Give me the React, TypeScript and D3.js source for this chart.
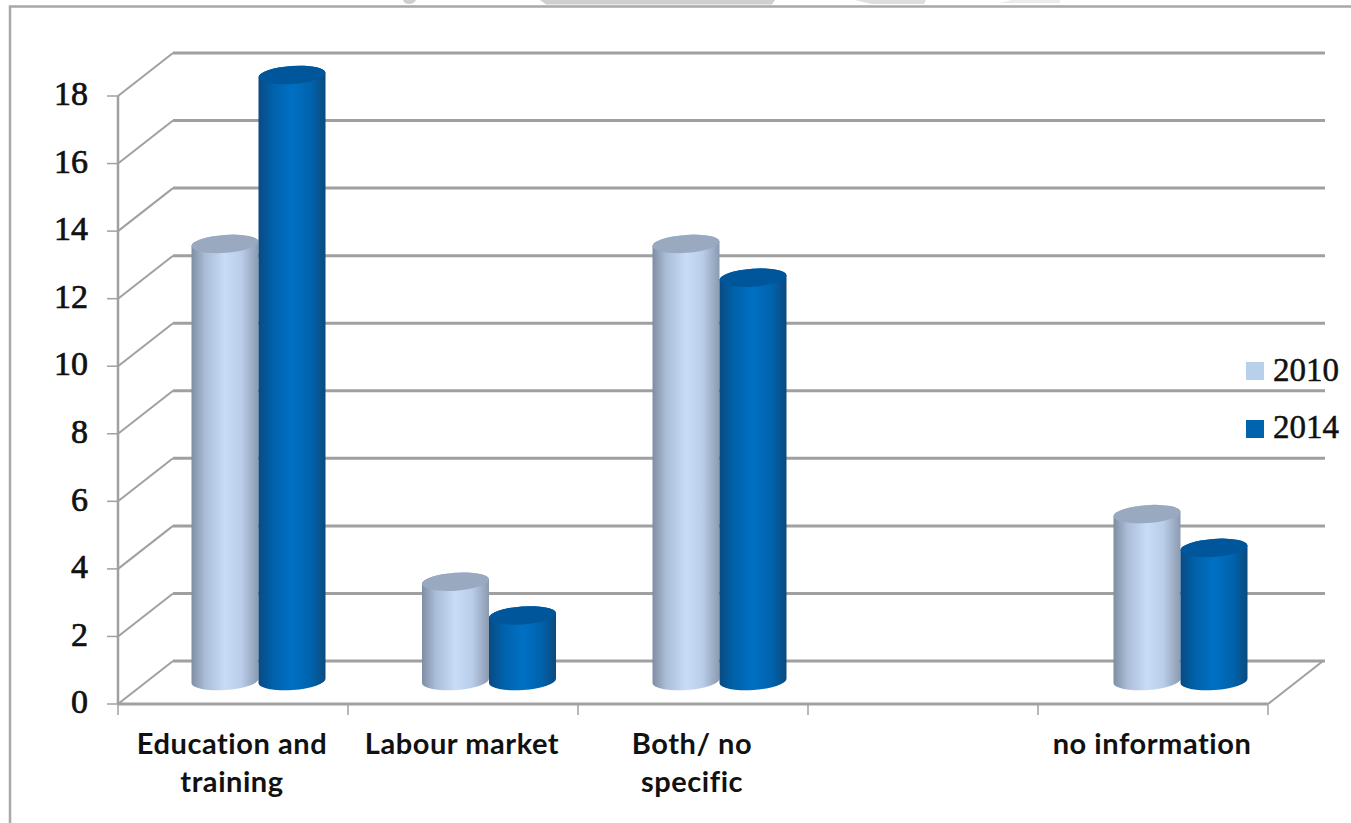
import React from "react";
import * as d3 from "d3";

const categories = ["Education and training", "Labour market", "Both/ no specific", "", "no information"];
const categoryLines = [["Education and", "training"], ["Labour market"], ["Both/ no", "specific"], [], ["no information"]];
const seriesNames = ["2010", "2014"];
const values2010 = [13, 3, 13, null, 5];
const values2014 = [18, 2, 12, null, 4];
const yTicks = [0, 2, 4, 6, 8, 10, 12, 14, 16, 18];

const W = 1351;
const H = 823;
const FRONT_LEFT = 118;
const FRONT_RIGHT = 1268;
const DEPTH_X = 55;
const DEPTH_Y = 43;
const RY = 9;
const TILT = -4;

const y = d3.scaleLinear().domain([0, 18]).range([704, 96]);
const x = d3.scaleBand<string>().domain(categories.map((c, i) => c + i)).range([FRONT_LEFT, FRONT_RIGHT]);
const barW = 67;

const GRID = "#a0a0a0";
const digitFont = "'Liberation Serif', serif";
const labelFont = "Lato, 'Open Sans', sans-serif";

// Cylinder caps lean slightly upward to the right, like a 3D perspective view
function cylinderPath(cx: number, top: number, bottom: number, rx: number) {
  const dy = rx * Math.sin((-TILT * Math.PI) / 180);
  return `M${cx - rx},${top + dy} L${cx - rx},${bottom + dy} A${rx},${RY} ${TILT} 0 0 ${cx + rx},${bottom - dy} L${cx + rx},${top - dy} A${rx},${RY} ${TILT} 0 0 ${cx - rx},${top + dy} Z`;
}

function Cylinder({ cx, value, body, cap }: { cx: number; value: number; body: string; cap: string }) {
  const rx = barW / 2;
  const base = y(0) - 23;
  const top = y(value) - 21;
  return (
    <g>
      <path d={cylinderPath(cx, top, base, rx)} fill={`url(#${body})`} />
      <ellipse cx={0} cy={0} rx={rx} ry={RY} fill={cap} transform={`translate(${cx},${top}) rotate(${TILT})`} />
    </g>
  );
}

export default function App() {
  const ticksX = d3.range(categories.length + 1).map((i) => FRONT_LEFT + i * x.step());
  return (
    <svg width={W} height={H} viewBox={`0 0 ${W} ${H}`} style={{ position: "fixed", left: 0, top: 0, background: "#fff" }}>
      <defs>
        <linearGradient id="bodyLight" x1="0" x2="1" y1="0" y2="0">
          <stop offset="0" stopColor="#7d8da3" />
          <stop offset="0.2" stopColor="#aabcd6" />
          <stop offset="0.5" stopColor="#c8dcf8" />
          <stop offset="0.75" stopColor="#b9cce8" />
          <stop offset="1" stopColor="#8a9ab0" />
        </linearGradient>
        <linearGradient id="bodyDark" x1="0" x2="1" y1="0" y2="0">
          <stop offset="0" stopColor="#0a4a82" />
          <stop offset="0.22" stopColor="#0062ab" />
          <stop offset="0.5" stopColor="#0070c4" />
          <stop offset="0.78" stopColor="#0063ad" />
          <stop offset="1" stopColor="#0b4a7e" />
        </linearGradient>
      </defs>

      {/* slide elements cut off along the upper edge */}
      <path d="M403,0 H416 Q414,4 409,4 Q404,4 403,0 Z" fill="#cfcfcf" />
      <path d="M540,0 H775 L772,4.5 H546 Z" fill="#cfcfcf" />
      <path d="M855,0 H926 L924,4 H872 Z" fill="#dedede" />
      <path d="M1000,3 L1012,0 H1060 V3 Z" fill="#ececec" />

      {/* outer chart frame */}
      <rect x={10} y={6.5} width={1400} height={900} fill="none" stroke="#a8a8a8" strokeWidth={2.5} />

      {/* back wall and side wall grid */}
      {yTicks.map((t) => (
        <g key={t} stroke={GRID} strokeWidth={3} fill="none">
          <line x1={FRONT_LEFT} y1={y(t)} x2={FRONT_LEFT + DEPTH_X} y2={y(t) - DEPTH_Y} strokeWidth={2} />
          <line x1={FRONT_LEFT + DEPTH_X} y1={y(t) - DEPTH_Y} x2={FRONT_RIGHT + DEPTH_X + 2} y2={y(t) - DEPTH_Y} />
          <line x1={107} y1={y(t)} x2={FRONT_LEFT} y2={y(t)} strokeWidth={1.5} />
        </g>
      ))}
      <line x1={FRONT_RIGHT} y1={y(0)} x2={FRONT_RIGHT + DEPTH_X} y2={y(0) - DEPTH_Y} stroke={GRID} strokeWidth={2} />

      {/* axes */}
      <line x1={FRONT_LEFT} y1={y(18)} x2={FRONT_LEFT} y2={y(0)} stroke={GRID} strokeWidth={2.5} />
      <line x1={FRONT_LEFT} y1={y(0)} x2={FRONT_RIGHT} y2={y(0)} stroke={GRID} strokeWidth={3} />
      {ticksX.map((tx) => (
        <line key={tx} x1={tx} y1={y(0)} x2={tx} y2={715} stroke={GRID} strokeWidth={1.5} />
      ))}

      {/* cylinders: the depth offset grows slightly toward the right */}
      {categories.map((c, i) => {
        const center = FRONT_LEFT + (i + 0.5) * x.step() + 25.5 + i * 0.5;
        const a = values2010[i];
        const b = values2014[i];
        return (
          <g key={i}>
            {a != null && <Cylinder cx={center - barW / 2} value={a} body="bodyLight" cap="#98a9c0" />}
            {b != null && <Cylinder cx={center + barW / 2} value={b} body="bodyDark" cap="#00569b" />}
          </g>
        );
      })}

      {/* value axis labels */}
      {yTicks.map((t) => (
        <text key={t} x={88} y={y(t) - 1} dy="0.3em" textAnchor="end" fontFamily={digitFont} fontSize={34} fill="#111" stroke="#111" strokeWidth={0.7}>
          {t}
        </text>
      ))}

      {/* category labels */}
      {categoryLines.map((lines, i) => (
        <text key={i} textAnchor="middle" fontFamily={labelFont} fontWeight={700} fontSize={29} letterSpacing={0.55} fill="#111">
          {lines.map((l, j) => (
            <tspan key={j} x={FRONT_LEFT + (i + 0.5) * x.step() - 1} y={754 + j * 38}>
              {l}
            </tspan>
          ))}
        </text>
      ))}

      {/* legend */}
      {seriesNames.map((s, i) => (
        <g key={s}>
          <rect x={1246} y={362 + i * 58} width={18} height={18} fill={i === 0 ? "#b9d0ea" : "#0063ad"} />
          <text x={1273} y={371 + i * 57.5} dy="0.3em" fontFamily={digitFont} fontSize={33} fill="#111" stroke="#111" strokeWidth={0.5}>
            {s}
          </text>
        </g>
      ))}
    </svg>
  );
}
